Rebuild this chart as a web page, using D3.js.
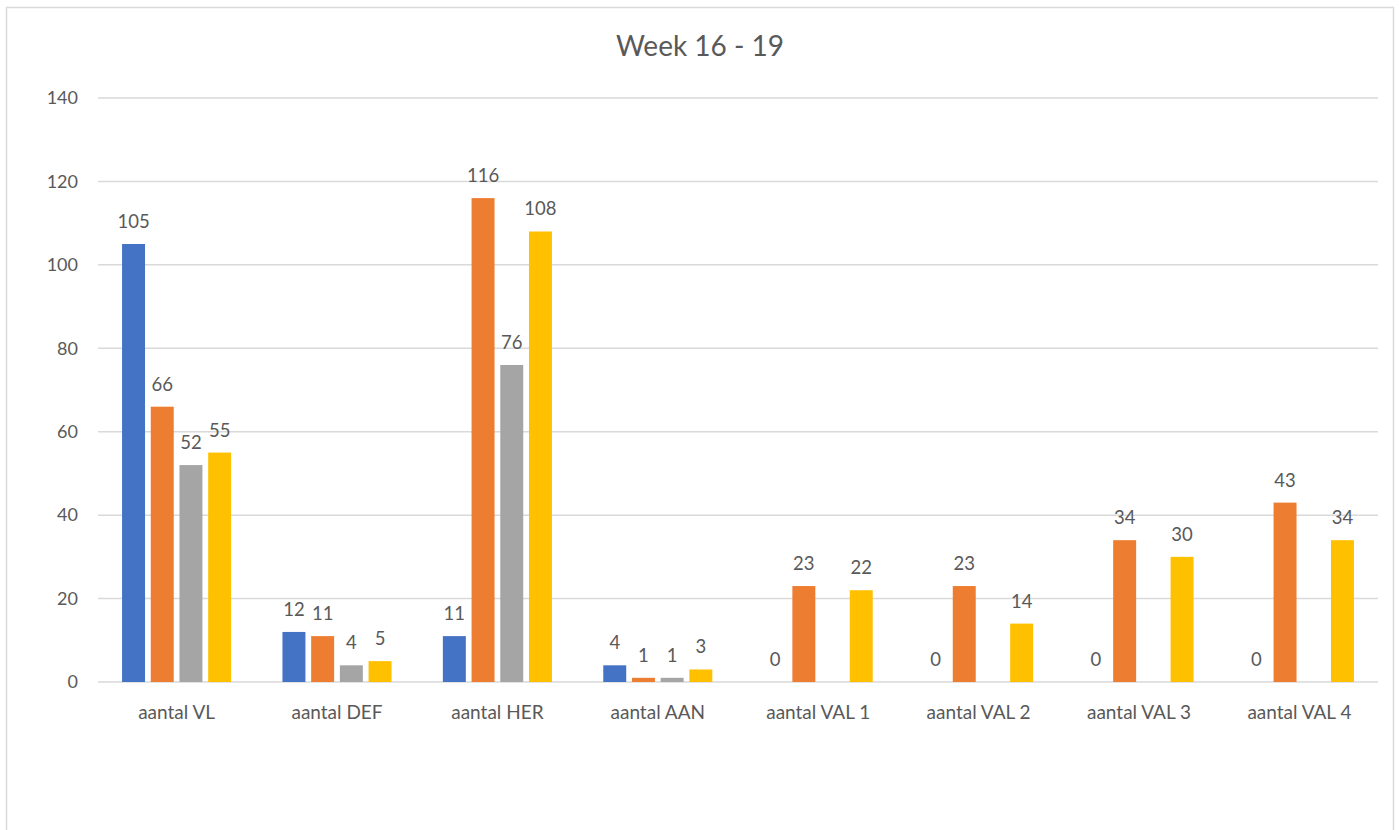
<!DOCTYPE html>
<html>
<head>
<meta charset="utf-8">
<script src="https://cdn.jsdelivr.net/npm/d3@7"></script>
<style>
  html, body { margin: 0; padding: 0; background: #fff; }
  svg { display: block; font-family: Lato, "Noto Sans", sans-serif; }
</style>
</head>
<body>
<svg id="chart" width="1399" height="830"></svg>
<script>
const title = "Week 16 - 19";
const categories = ["aantal VL", "aantal DEF", "aantal HER", "aantal AAN", "aantal VAL 1", "aantal VAL 2", "aantal VAL 3", "aantal VAL 4"];
const seriesNames = ["S1", "S2", "S3", "S4"];
const seriesColors = ["#4472C4", "#ED7D31", "#A5A5A5", "#FFC000"];
const series1 = [105, 12, 11, 4, 0, 0, 0, 0];
const series2 = [66, 11, 116, 1, 23, 23, 34, 43];
const series3 = [52, 4, 76, 1, null, null, null, null];
const series4 = [55, 5, 108, 3, 22, 14, 30, 34];
const yTicks = [0, 20, 40, 60, 80, 100, 120, 140];

const allSeries = [series1, series2, series3, series4];
const svg = d3.select("#chart");
const FONT = "Lato, 'Noto Sans', sans-serif";

// chart border
svg.append("rect").attr("x", 6.5).attr("y", 7.5).attr("width", 1387).attr("height", 840)
  .attr("fill", "#fff").attr("stroke", "#d9d9d9").attr("stroke-width", 1.5);

const mLeft = 98, mRight = 1378, mTop = 98, mBottom = 682;

const y = d3.scaleLinear().domain([0, 140]).range([mBottom, mTop]);
const x0 = d3.scaleBand().domain(categories).range([mLeft, mRight]).paddingInner(0.32).paddingOuter(0.15);
const x1 = d3.scaleBand().domain(seriesNames).range([0, x0.bandwidth()]).paddingInner(0.2);

// gridlines
svg.append("g").selectAll("line").data(yTicks).join("line")
  .attr("x1", mLeft).attr("x2", mRight)
  .attr("y1", d => y(d)).attr("y2", d => y(d))
  .attr("stroke", "#d9d9d9").attr("stroke-width", 1.5);

// y axis labels
const yAxis = d3.axisLeft(y).tickValues(yTicks).tickSize(0).tickPadding(0);
const gy = svg.append("g").attr("transform", `translate(${mLeft - 20},0)`).call(yAxis);
gy.select(".domain").remove();
gy.selectAll("text").attr("fill", "#595959").style("font-size", "18px").style("font-family", FONT);

// x axis labels
const xAxis = d3.axisBottom(x0).tickSize(0).tickPadding(0);
const gx = svg.append("g").attr("transform", `translate(0,${mBottom + 23})`).call(xAxis);
gx.select(".domain").remove();
gx.selectAll("text").attr("fill", "#595959").style("font-size", "19px").style("font-family", FONT);

// bars
const data = [];
categories.forEach((c, i) => {
  allSeries.forEach((s, j) => {
    if (s[i] !== null) data.push({ cat: c, ser: seriesNames[j], v: s[i], color: seriesColors[j] });
  });
});

svg.append("g").selectAll("rect").data(data).join("rect")
  .attr("x", d => x0(d.cat) + x1(d.ser))
  .attr("y", d => y(d.v))
  .attr("width", x1.bandwidth())
  .attr("height", d => mBottom - y(d.v))
  .attr("fill", d => d.color);

// value labels
svg.append("g").selectAll("text").data(data).join("text")
  .attr("x", d => x0(d.cat) + x1(d.ser) + x1.bandwidth() / 2)
  .attr("y", d => y(d.v) - 16)
  .attr("text-anchor", "middle")
  .attr("fill", "#595959")
  .style("font-size", "18.5px")
  .text(d => d.v);

// title
svg.append("text").attr("x", 700).attr("y", 56).attr("text-anchor", "middle")
  .attr("fill", "#595959").style("font-size", "28px").text(title);
</script>
</body>
</html>
